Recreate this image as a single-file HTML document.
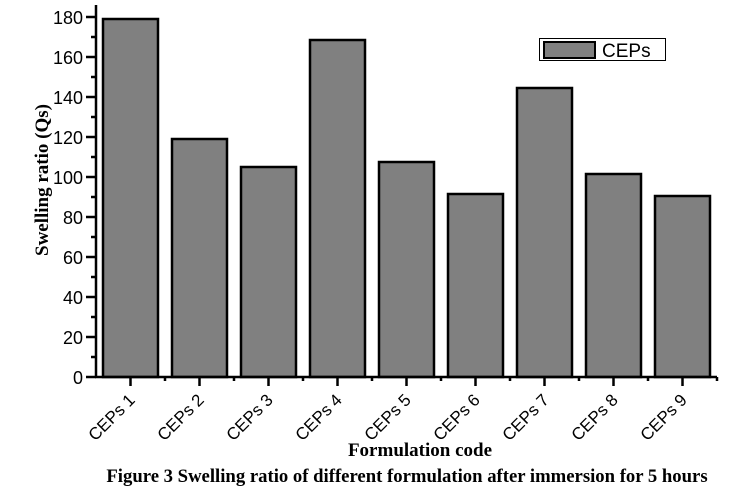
<!DOCTYPE html>
<html><head><meta charset="utf-8"><style>body{margin:0;background:#fff}svg{display:block}</style></head>
<body>
<svg width="733" height="499" xmlns="http://www.w3.org/2000/svg" font-family="Liberation Sans, sans-serif">
<rect width="733" height="499" fill="#fff"/>
<g fill="#808080" stroke="#000" stroke-width="2.5">
<rect x="103" y="19" width="55" height="358"/>
<rect x="172" y="139" width="55" height="238"/>
<rect x="241" y="167" width="55" height="210"/>
<rect x="310" y="40" width="55" height="337"/>
<rect x="379" y="162" width="55" height="215"/>
<rect x="448" y="194" width="55" height="183"/>
<rect x="517" y="88" width="55" height="289"/>
<rect x="586" y="174" width="55" height="203"/>
<rect x="655" y="196" width="55" height="181"/>
</g>
<g stroke="#000" stroke-width="2.5" fill="none">
<line x1="96" y1="5" x2="96" y2="378"/>
<line x1="95" y1="377" x2="717" y2="377"/>
<path d="M86 377H96M86 337H96M86 297H96M86 257H96M86 217H96M86 177H96M86 137H96M86 97H96M86 57H96M86 17H96"/>
<path d="M91 357H96M91 317H96M91 277H96M91 237H96M91 197H96M91 157H96M91 117H96M91 77H96M91 37H96"/>
<path d="M130.5 377V386M199.5 377V386M268.5 377V386M337.5 377V386M406.5 377V386M475.5 377V386M544.5 377V386M613.5 377V386M682.5 377V386"/>
<path d="M165 377V381M234 377V381M303 377V381M372 377V381M441 377V381M510 377V381M579 377V381M648 377V381M717 377V381"/>
</g>
<g font-size="18" text-anchor="end" fill="#000">
<text x="83" y="384">0</text><text x="83" y="344">20</text><text x="83" y="304">40</text><text x="83" y="264">60</text><text x="83" y="224">80</text><text x="83" y="184">100</text><text x="83" y="144">120</text><text x="83" y="104">140</text><text x="83" y="64">160</text><text x="83" y="24">180</text>
</g>
<g font-size="17" text-anchor="end" fill="#000">
<text transform="translate(136,401) rotate(-45)">CEPs 1</text>
<text transform="translate(205,401) rotate(-45)">CEPs 2</text>
<text transform="translate(274,401) rotate(-45)">CEPs 3</text>
<text transform="translate(343,401) rotate(-45)">CEPs 4</text>
<text transform="translate(412,401) rotate(-45)">CEPs 5</text>
<text transform="translate(481,401) rotate(-45)">CEPs 6</text>
<text transform="translate(550,401) rotate(-45)">CEPs 7</text>
<text transform="translate(619,401) rotate(-45)">CEPs 8</text>
<text transform="translate(688,401) rotate(-45)">CEPs 9</text>
</g>
<text transform="translate(48,180) rotate(-90)" text-anchor="middle" font-family="Liberation Serif, serif" font-weight="bold" font-size="19">Swelling ratio (Qs)</text>
<text x="420" y="456" text-anchor="middle" font-family="Liberation Serif, serif" font-weight="bold" font-size="19">Formulation code</text>
<text x="407" y="482" text-anchor="middle" font-family="Liberation Serif, serif" font-weight="bold" font-size="18.7">Figure 3 Swelling ratio of different formulation after immersion for 5 hours</text>
<rect x="539.5" y="38.5" width="126" height="22" fill="#fff" stroke="#000" stroke-width="1"/>
<rect x="544" y="42" width="51" height="16" fill="#808080" stroke="#000" stroke-width="2"/>
<text x="602" y="57" font-size="19">CEPs</text>
</svg>
</body></html>
